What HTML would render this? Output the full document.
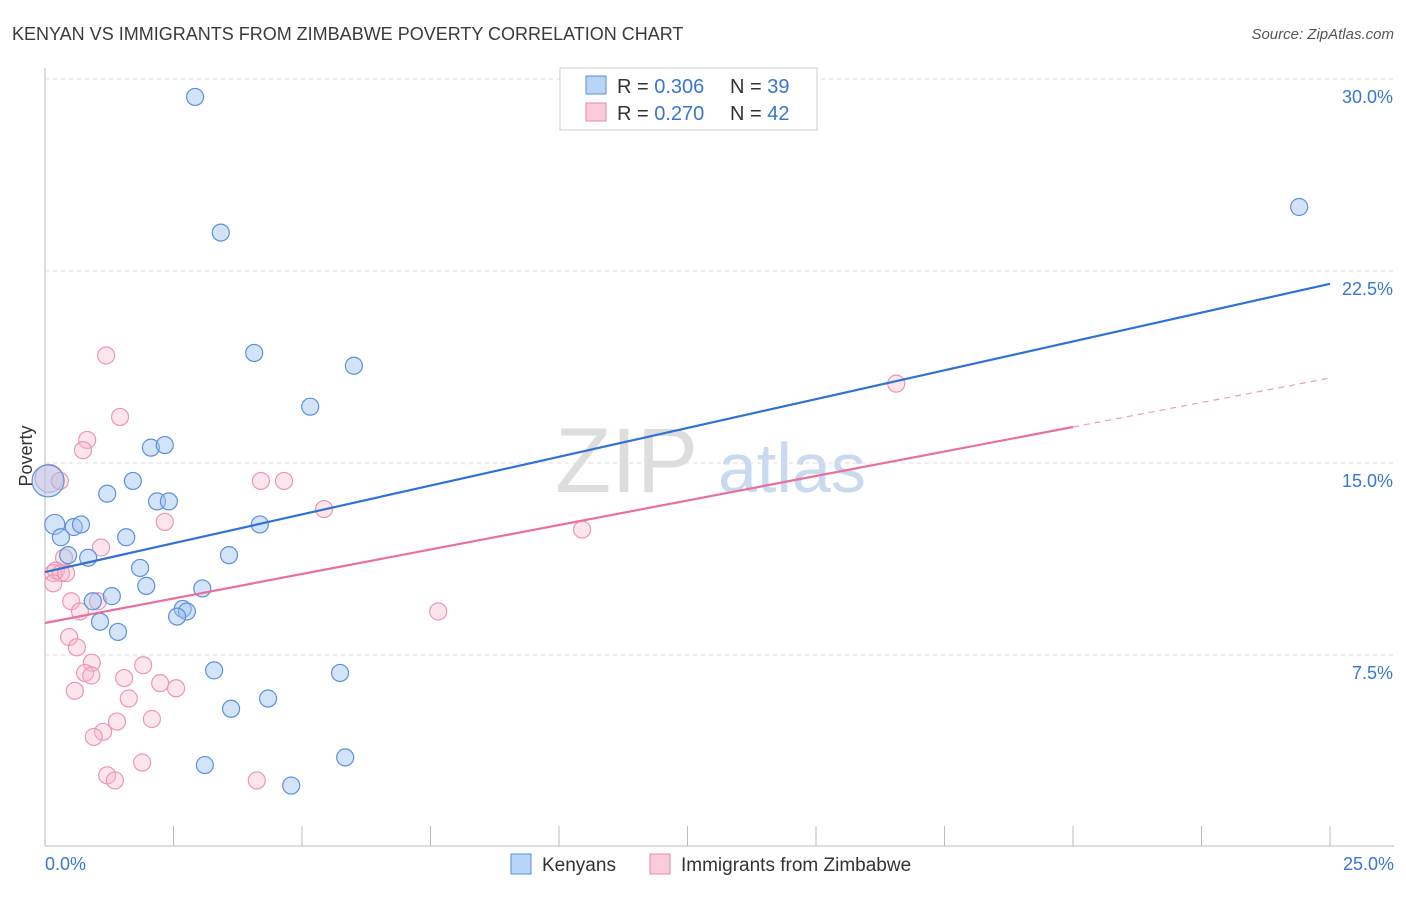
<!DOCTYPE html>
<html><head><meta charset="utf-8"><style>
body{margin:0;background:#fff;font-family:"Liberation Sans",sans-serif}
svg text{font-family:"Liberation Sans",sans-serif}
</style></head><body>
<svg id="c" width="1406" height="892">
<text x="12" y="40" font-size="18" fill="#3a3a3a">KENYAN VS IMMIGRANTS FROM ZIMBABWE POVERTY CORRELATION CHART</text>
<text x="1394" y="39" font-size="15" fill="#555" font-style="italic" text-anchor="end">Source: ZipAtlas.com</text>
<text x="555" y="492" font-size="92" fill="#ddd" font-family="Liberation Serif">ZIP</text>
<text x="718" y="492" font-size="70" fill="#c9d9ef">atlas</text>
<g id="grid"></g><g id="pts"></g><g id="lines"></g>
<text x="32" y="456" font-size="18" fill="#333" transform="rotate(-90 32 456)" text-anchor="middle">Poverty</text>
<g>
<rect x="560" y="68" width="257" height="62" fill="#fff" stroke="#ccc"/>
<rect x="586" y="76" width="20" height="18" fill="#b8d4f7" stroke="#5b8fd8"/>
<text x="617" y="93" font-size="20" fill="#333">R = <tspan fill="#3a75d1">0.306</tspan></text>
<text x="730" y="93" font-size="20" fill="#333">N = <tspan fill="#3a75d1">39</tspan></text>
<rect x="586" y="103" width="20" height="18" fill="#fbcbda" stroke="#e88aa8"/>
<text x="617" y="120" font-size="20" fill="#333">R = <tspan fill="#3a75d1">0.270</tspan></text>
<text x="730" y="120" font-size="20" fill="#333">N = <tspan fill="#3a75d1">42</tspan></text>
</g>
<g>
<rect x="511" y="854" width="20" height="20" fill="#b8d4f7" stroke="#5b8fd8"/>
<text x="542" y="871" font-size="19" fill="#333">Kenyans</text>
<rect x="650" y="854" width="20" height="20" fill="#fbcbda" stroke="#e88aa8"/>
<text x="681" y="871" font-size="19" fill="#333">Immigrants from Zimbabwe</text>
</g>
</svg>
<script>
const xTicks=[0,2.5,5,7.5,10,12.5,15,17.5,20,22.5,25];
const yTicks=[7.5,15,22.5,30];
const yTickLabels=["7.5%","15.0%","22.5%","30.0%"];
const blueX=[2.92,3.42,4.07,6.01,5.16,2.06,2.33,1.21,1.71,2.18,2.41,0.19,0.56,0.70,0.31,1.58,4.18,0.45,0.84,1.85,3.58,1.97,3.06,1.30,0.93,2.68,2.76,2.57,1.07,1.42,3.29,5.74,4.34,3.62,5.84,3.11,4.79,24.4,0.06];
const blueY=[29.3,24.0,19.3,18.8,17.2,15.6,15.7,13.8,14.3,13.5,13.5,12.6,12.5,12.6,12.1,12.1,12.6,11.4,11.3,10.9,11.4,10.2,10.1,9.8,9.6,9.3,9.2,9.0,8.8,8.4,6.9,6.8,5.8,5.4,3.5,3.2,2.4,25.0,14.3];
const blueR=[8.5,8.5,8.5,8.5,8.5,8.5,8.5,8.5,8.5,8.5,8.5,10,8.5,8.5,8.5,8.5,8.5,8.5,8.5,8.5,8.5,8.5,8.5,8.5,8.5,8.5,8.5,8.5,8.5,8.5,8.5,8.5,8.5,8.5,8.5,8.5,8.5,8.5,16];
const pinkX=[1.19,1.46,0.82,0.74,0.08,0.29,4.20,4.65,5.43,2.33,10.45,1.09,0.37,0.21,0.16,0.31,0.41,0.16,0.51,1.03,0.68,7.65,0.47,0.62,0.91,1.91,0.78,0.90,1.54,2.24,2.55,0.58,1.63,2.08,1.40,1.13,0.95,1.89,1.21,1.36,4.12,16.56];
const pinkY=[19.2,16.8,15.9,15.5,14.4,14.3,14.3,14.3,13.2,12.7,12.4,11.7,11.3,10.8,10.7,10.7,10.7,10.3,9.6,9.6,9.2,9.2,8.2,7.8,7.2,7.1,6.8,6.7,6.6,6.4,6.2,6.1,5.8,5.0,4.9,4.5,4.3,3.3,2.8,2.6,2.6,18.1];
const pinkR=[8.5,8.5,8.5,8.5,14,8.5,8.5,8.5,8.5,8.5,8.5,8.5,8.5,8.5,8.5,8.5,8.5,8.5,8.5,8.5,8.5,8.5,8.5,8.5,8.5,8.5,8.5,8.5,8.5,8.5,8.5,8.5,8.5,8.5,8.5,8.5,8.5,8.5,8.5,8.5,8.5,8.5];
const blueLine=[10.74,22.0];
const pinkLine=[8.75,18.32];
const pinkSolidEnd=20;
const X=v=>45+v*51.4, Y=v=>847-v*25.6;
const NS="http://www.w3.org/2000/svg";
function mk(t,a,p){const e=document.createElementNS(NS,t);for(const k in a)e.setAttribute(k,a[k]);p.appendChild(e);return e;}
const g=document.getElementById('grid');
const ax=mk('line',{x1:45,y1:68,x2:45,y2:846,stroke:'#bbb'},g);


const bx=mk('line',{x1:45,y1:846,x2:1394,y2:846,stroke:'#bbb'},g);


yTicks.forEach((v,i)=>{
 const l=mk('line',{x1:45,y1:Y(v),x2:1394,y2:Y(v),stroke:'#ddd','stroke-dasharray':'4 4'},g);
 
 
 const t=mk('text',{x:1393,y:Y(v)+24,'font-size':18,fill:'#3a75d1','text-anchor':'end'},g);t.textContent=yTickLabels[i];
 
 
});
xTicks.forEach(v=>{
 const l=mk('line',{x1:X(v),y1:826,x2:X(v),y2:846,stroke:'#bbb'},g);
 
 
});
const t0=mk('text',{x:45,y:870,'font-size':18,fill:'#3a75d1'},g);t0.textContent='0.0%';


const t1=mk('text',{x:1394,y:870,'font-size':18,fill:'#3a75d1','text-anchor':'end'},g);t1.textContent='25.0%';


const p=document.getElementById('pts');
pinkX.forEach((v,i)=>{
 const c=mk('circle',{cx:X(v),cy:Y(pinkY[i]),r:pinkR[i],fill:'rgba(248,180,200,0.35)',stroke:'#eb96b2','stroke-width':1.2},p);
 
 
});
blueX.forEach((v,i)=>{
 const c=mk('circle',{cx:X(v),cy:Y(blueY[i]),r:blueR[i],fill:'rgba(160,196,240,0.45)',stroke:'#5b90db','stroke-width':1.2},p);
 
 
});
const L=document.getElementById('lines');
const bl=mk('line',{x1:X(0),y1:Y(blueLine[0]),x2:X(25),y2:Y(blueLine[1]),stroke:'#2f72d6','stroke-width':2.2},L);


const py=x=>pinkLine[0]+(pinkLine[1]-pinkLine[0])*x/25;
const pl=mk('line',{x1:X(0),y1:Y(py(0)),x2:X(pinkSolidEnd),y2:Y(py(pinkSolidEnd)),stroke:'#e8709a','stroke-width':2.2},L);


const pd=mk('line',{x1:X(pinkSolidEnd),y1:Y(py(pinkSolidEnd)),x2:X(25),y2:Y(py(25)),stroke:'#e8a0b8','stroke-width':1.2,'stroke-dasharray':'6 5'},L);


</script>
</body></html>
